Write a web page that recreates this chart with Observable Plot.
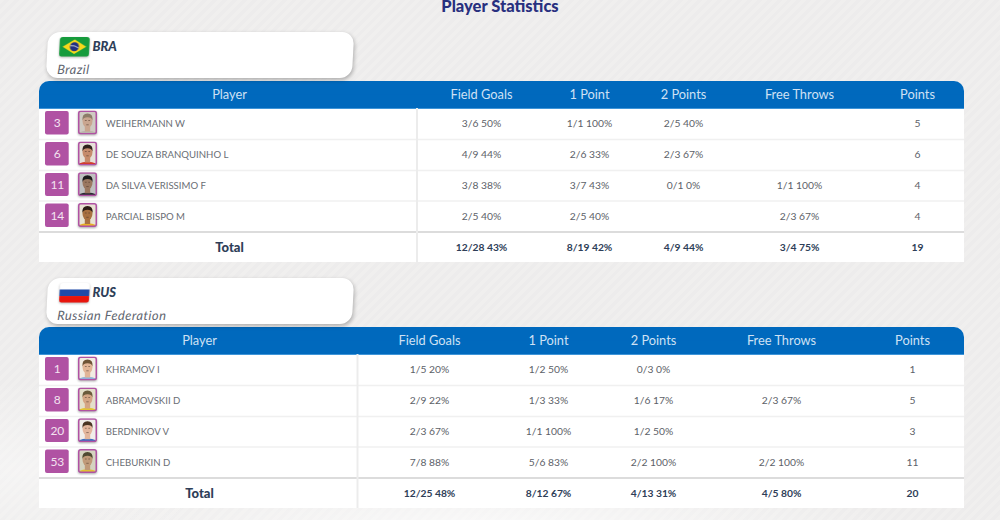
<!DOCTYPE html>
<html><head><meta charset="utf-8">
<script src="https://cdn.jsdelivr.net/npm/d3@7"></script>
<script src="https://cdn.jsdelivr.net/npm/@observablehq/plot@0.6"></script>
<style>
html,body{margin:0;padding:0;width:1000px;height:520px;overflow:hidden}
body{font-family:Lato,sans-serif;
 background:
  radial-gradient(ellipse 420px 60px at 480px 530px,rgba(255,255,255,.7),rgba(255,255,255,0)),
  radial-gradient(ellipse 200px 90px at 20px 470px,rgba(255,255,255,.4),rgba(255,255,255,0)),
  repeating-linear-gradient(135deg,#f0efee 0 3.5px,#edecec 3.5px 7px);}
h1{margin:0;height:32px;font-size:16.5px;line-height:12px;font-weight:900;color:#28307f;text-align:center}
.card{position:relative;box-sizing:border-box;width:306px;height:46px;margin-left:46.5px;margin-bottom:3px;background:#fff;border-radius:12px;
 transform:skewX(-3deg);box-shadow:1px 2px 4px rgba(0,0,0,.28)}
.card svg{position:absolute;left:12px;top:5px;width:30px;height:19.5px;border-radius:3px;filter:drop-shadow(0 1px 1px rgba(0,0,0,.3))}
.card b{position:absolute;left:44.5px;top:7px;font-size:13px;line-height:15px;font-weight:900;font-style:italic;color:#2e3e58;transform:skewX(3deg)}
.card i{position:absolute;left:11px;top:30px;font-size:12.8px;line-height:15px;letter-spacing:.5px;color:#5f6670}
.gap{height:16px}
svg.plot-table{display:block}
svg.plot-table image{filter:drop-shadow(0 1px 1px rgba(0,0,0,.35))}
</style></head><body>
<h1>Player Statistics</h1>
<div id="bra" class="card"><svg viewBox="0 0 29 19"><rect width="29" height="19" fill="#169b3c"/><path d="M14.5 2.5 26 9.5 14.5 16.5 3 9.5Z" fill="#f7d81c"/><circle cx="14.5" cy="9.5" r="4.4" fill="#23307f"/><path d="M10.5 8.5q4-.8 8 2.2" stroke="#fff" stroke-width=".7" fill="none"/></svg><b>BRA</b><i>Brazil</i></div>
<div id="plot-bra"></div>
<div class="gap"></div>
<div id="rus" class="card"><svg viewBox="0 0 29 19"><rect width="29" height="7" fill="#fff"/><rect y="6.3" width="29" height="6.4" fill="#1f4aa8"/><rect y="12.7" width="29" height="6.3" fill="#e8140c"/></svg><b>RUS</b><i>Russian Federation</i></div>
<div id="plot-rus"></div>
<script>
const columns = ["Player","Field Goals","1 Point","2 Points","Free Throws","Points"];
const totalLabel = "Total";

const braNumbers = ["3","6","11","14"];
const braNames = ["WEIHERMANN W","DE SOUZA BRANQUINHO L","DA SILVA VERISSIMO F","PARCIAL BISPO M"];
const braFieldGoals = ["3/6 50%","4/9 44%","3/8 38%","2/5 40%"];
const braOnePoint = ["1/1 100%","2/6 33%","3/7 43%","2/5 40%"];
const braTwoPoints = ["2/5 40%","2/3 67%","0/1 0%",""];
const braFreeThrows = ["","","1/1 100%","2/3 67%"];
const braPoints = ["5","6","4","4"];
const braTotals = ["12/28 43%","8/19 42%","4/9 44%","3/4 75%","19"];

const rusNumbers = ["1","8","20","53"];
const rusNames = ["KHRAMOV I","ABRAMOVSKII D","BERDNIKOV V","CHEBURKIN D"];
const rusFieldGoals = ["1/5 20%","2/9 22%","2/3 67%","7/8 88%"];
const rusOnePoint = ["1/2 50%","1/3 33%","1/1 100%","5/6 83%"];
const rusTwoPoints = ["0/3 0%","1/6 17%","1/2 50%","2/2 100%"];
const rusFreeThrows = ["","2/3 67%","","2/2 100%"];
const rusPoints = ["1","5","3","11"];
const rusTotals = ["12/25 48%","8/12 67%","4/13 31%","4/5 80%","20"];

// portrait tones: [background, skin, hair, shirt]
const portraitTones = {
  bra: [["#cfcac2","#c9a58f","#8d7b68","#b9b3aa"],["#e6e0d8","#c58b6c","#2d201a","#d23a2a"],["#bfc0c0","#9a7860","#1f1c1c","#2a2a30"],["#e8e2d2","#a8713f","#2a1c12","#e8b020"]],
  rus: [["#f2ece2","#e2b597","#6e5236","#8fb0d8"],["#e4dfca","#d4a585","#6b5a3a","#e3c330"],["#f1eeea","#e3b69c","#4a3424","#3d6cc0"],["#d5d4c0","#c09a78","#4f4a30","#e0c030"]]
};

const portrait = ([bg,skin,hair,shirt]) => "data:image/svg+xml," + encodeURIComponent(
 `<svg xmlns="http://www.w3.org/2000/svg" viewBox="0 0 19 24" width="19" height="24"><defs><clipPath id="c"><rect x="1" y="1" width="17" height="22" rx="1.5"/></clipPath><filter id="s"><feGaussianBlur stdDeviation=".35"/></filter></defs><g clip-path="url(#c)"><rect width="19" height="24" fill="${bg}"/><g filter="url(#s)"><path d="M1 24v-2q3.5-1.8 8.5-1.8t8.5 1.8V24Z" fill="${shirt}"/><rect x="6.8" y="15" width="5.4" height="6" fill="${skin}"/><ellipse cx="9.5" cy="10.6" rx="5" ry="6.6" fill="${skin}"/><path d="M4.4 10Q3.8 3 9.5 3t5.1 7q-1-3.2-5.1-3.2T4.4 10Z" fill="${hair}"/><path d="M6.9 10h1.8M10.3 10h1.8M8.3 14.3h2.4" stroke="#4a3428" stroke-width=".7" opacity=".75"/></g></g><rect x=".75" y=".75" width="17.5" height="22.5" rx="2" fill="none" stroke="#b052a3" stroke-width="1.5"/></svg>`);

// named horizontal stops of the table, mapped through the x scale
const X = {left:0,badgeL:1,badgeR:2,badgeC:1.5,photo:3,name:4,player:5,divider:6,fg:7,p1:8,p2:9,ft:10,pts:11,right:12};
const Y = {top:0,body:1,total:5,bottom:6};
const font = "Lato, sans-serif";
const headColor = "#cfe1f4", statColor = "#5c6168", nameColor = "#6a6e74", boldColor = "#2e3e58";

function table(target, t, xRange) {
  const rows = t.names.map((name,i) => ({row:i+1.5, band:i+1, name, number:t.numbers[i], src:portrait(t.tones[i]),
    cells:[t.fg[i],t.p1[i],t.p2[i],t.ft[i],t.pts[i]]}));
  const statKeys = [X.fg,X.p1,X.p2,X.ft,X.pts];
  const stats = rows.flatMap(r => r.cells.map((v,j) => ({x:statKeys[j], y:r.row, v})));
  const totals = t.totals.map((v,j) => ({x:statKeys[j], y:Y.total+.5, v}));
  const heads = columns.map((c,j) => ({x:[X.player,...statKeys][j], c}));
  const plot = Plot.plot({
    width:1000, height:181, margin:0,
    className:"plot-table",
    style:{background:"transparent",fontFamily:font},
    x:{type:"linear",axis:null,domain:d3.range(13),range:xRange},
    y:{type:"linear",axis:null,domain:[0,1,2,3,4,5,6],range:[0,27,58,89,119.5,150.5,181]},
    marks:[
      Plot.rect([0],{x1:X.left,x2:X.right,y1:Y.body,y2:Y.bottom,fill:"#fff"}),
      Plot.rect([0],{x1:X.left,x2:X.right,y1:Y.top,y2:Y.body,fill:"#0069bd",rx:10}),
      Plot.rect([0],{x1:X.left,x2:X.right,y1:.5,y2:Y.body,fill:"#0069bd"}),
      Plot.ruleY([2,3,4],{x1:X.left,x2:X.right,y:d=>d,stroke:"#f0f0f0",strokeWidth:1.5}),
      Plot.ruleY([Y.total],{x1:X.left,x2:X.right,y:d=>d,stroke:"#dcdcdc",strokeWidth:2}),
      Plot.ruleY([Y.bottom],{x1:X.left,x2:X.right,y:d=>d,stroke:"#e6e6e6",strokeWidth:1}),
      Plot.ruleY([Y.body],{x1:X.left,x2:X.right,y:d=>d,stroke:"#3f95d8",strokeWidth:1}),
      Plot.ruleX([X.divider],{x:d=>d,y1:Y.body,y2:Y.bottom,stroke:"#ececec",strokeWidth:2}),
      Plot.text(heads,{x:"x",y:()=>.5,text:"c",fill:headColor,fontSize:12.8,fontFamily:font}),
      Plot.rect(rows,{x1:()=>X.badgeL,x2:()=>X.badgeR,y1:"band",y2:d=>d.band+1,fill:"#b052a3",insetTop:3,insetBottom:4.5,rx:2}),
      Plot.text(rows,{x:()=>X.badgeC,y:"row",text:"number",fill:"#f3e3f0",fontSize:12,fontFamily:font,dy:-0.5}),
      Plot.image(rows,{x:()=>X.photo,y:"row",src:"src",width:19,height:24,dy:-1.5}),
      Plot.text(rows,{x:()=>X.name,y:"row",text:"name",textAnchor:"start",fill:nameColor,fontSize:9.6,fontFamily:font}),
      Plot.text(stats,{x:"x",y:"y",text:"v",fill:statColor,fontSize:10.3,fontFamily:font}),
      Plot.text([totalLabel],{x:()=>X.player,y:()=>Y.total+.5,text:d=>d,fill:boldColor,fontSize:13,fontWeight:900,fontFamily:font,dy:.5}),
      Plot.text(totals,{x:"x",y:"y",text:"v",fill:boldColor,fontSize:10.3,fontWeight:700,fontFamily:font})
    ]
  });
  document.getElementById(target).append(plot);
}

table("plot-bra",{numbers:braNumbers,names:braNames,fg:braFieldGoals,p1:braOnePoint,p2:braTwoPoints,ft:braFreeThrows,pts:braPoints,totals:braTotals,tones:portraitTones.bra},
  [39,45,68.7,87,105.2,229,416.5,481,589,683,799,917,964]);
table("plot-rus",{numbers:rusNumbers,names:rusNames,fg:rusFieldGoals,p1:rusOnePoint,p2:rusTwoPoints,ft:rusFreeThrows,pts:rusPoints,totals:rusTotals,tones:portraitTones.rus},
  [39,45,68.7,87,105.2,199,357,429,548,653,781,912,964]);
</script>
</body></html>
